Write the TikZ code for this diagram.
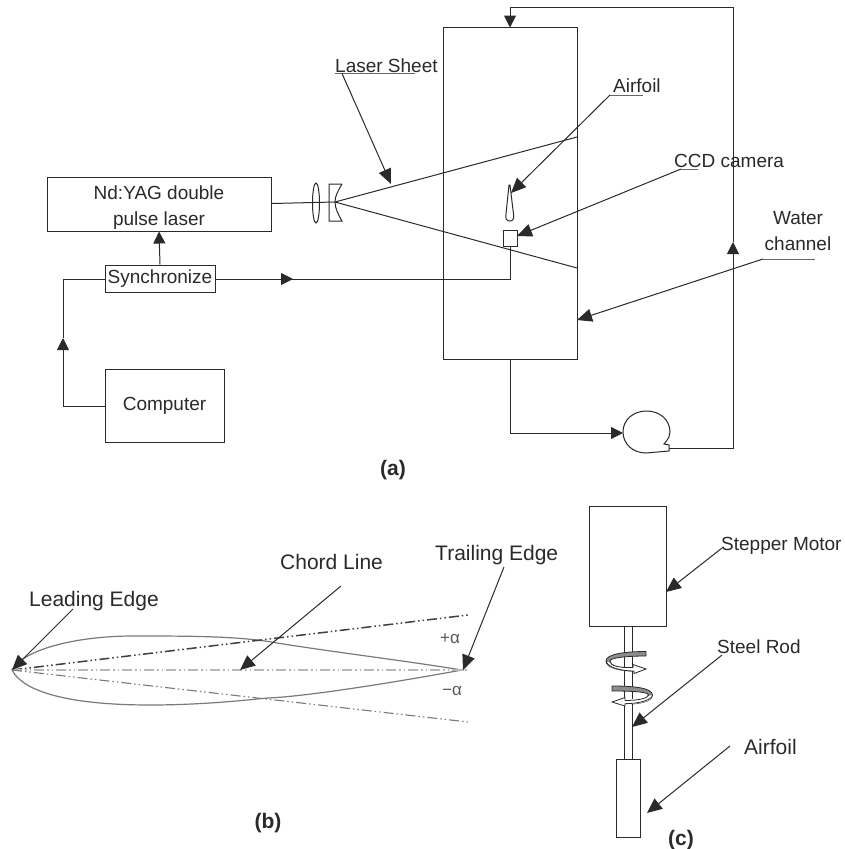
\documentclass[tikz,border=0pt]{standalone}
\usepackage{fontspec}
\setmainfont{Liberation Sans}
\usetikzlibrary{arrows.meta,shapes.geometric,calc}
\definecolor{ink}{HTML}{2A2A2A}
\tikzset{
  wire/.style={draw=ink,line width=1pt},
  boxnode/.style={wire,rectangle,inner sep=0pt,text=ink,font=\fontsize{19}{26}\selectfont,align=center},
  lab/.style={inner sep=0pt,anchor=base west,text=ink,font=\fontsize{19}{26}\selectfont,align=center},
  labbig/.style={lab,font=\fontsize{21}{26}\selectfont},
  captext/.style={inner sep=0pt,anchor=base,text=ink,font=\fontsize{21}{24}\selectfont\bfseries},
  arrowed/.style={wire,-{Triangle[length=12pt,width=12pt,color=ink]}},
  slant/.style={wire,-{Triangle[length=15pt,width=13pt,color=ink]}},
  foil/.style={draw=black!52,line width=1.2pt},
  ddot/.style={dash pattern=on 10pt off 3pt on 1.5pt off 3pt on 1.5pt off 3pt},
  ang/.style={inner sep=0pt,text=black!65,font=\fontsize{17}{18}\selectfont}
}
\begin{document}
\begin{tikzpicture}[x=1pt,y=-1pt]
\useasboundingbox (0,0) rectangle (844,849);
\fill[white] (0,0) rectangle (844,849);
% ---------- (a)
\node[boxnode,minimum width=224pt,minimum height=54pt] (laser) at (159,204) {\rule{0pt}{20pt}Nd:YAG double\\pulse laser};
\node[boxnode,minimum width=110pt,minimum height=27pt] (sync) at (160,278.5) {Synchronize};
\node[boxnode,minimum width=119pt,minimum height=73pt] (computer) at (164.5,405.5) {Computer};
\node[wire,rectangle,inner sep=0pt,minimum width=134pt,minimum height=332pt] (channel) at (510,193.5) {};
\node[wire,rectangle,inner sep=0pt,minimum width=14pt,minimum height=16pt] (camera) at (510,238) {};
\node[wire,ellipse,inner sep=0pt,minimum width=7pt,minimum height=40pt] (lens) at (316,203) {};
\coordinate (apex) at (335,202);
\coordinate (beamU) at (577,137);
\coordinate (beamL) at (577,268);
\draw[wire] (laser.east |- 0,203.5) -- (apex);
\draw[wire] (apex) -- (beamU);
\draw[wire] (apex) -- (beamL);
\draw[wire] (342,184) -- (329,184) -- (329,221) -- (342,221) .. controls (338,214) and (335,208) .. (apex) .. controls (335,196) and (338,191) .. (342,184);
\draw[wire,fill=white] (509,185) -- (506,214) .. controls (505,219) and (507,221) .. (510,221) .. controls (513,221) and (514,219) .. (513.5,214) -- (510,185) -- cycle;
% wires
\coordinate (syncmid) at (293,279);
\coordinate (corner) at (63,279);
\coordinate (compmid) at (63,338);
\draw[arrowed] (sync.north) -- (laser.south);
\draw[wire] (camera.south) |- (sync.east |- 0,279);
\draw[arrowed] (sync.east |- 0,279) -- (syncmid);
\draw[wire] (compmid) -- (corner) -- (sync.west |- 0,279);
\draw[arrowed] (computer.west |- 0,406) -| (compmid);
% pump loop
\draw[wire] (669,451) -- (669,445) -- (664,444) .. controls (669,438) and (670,436) .. (670,432) .. controls (670,420) and (660,411) .. (646.5,411) .. controls (633,411) and (623,420) .. (623,432) .. controls (623,444) and (633,453) .. (646,453) -- cycle;
\coordinate (pumpin) at (623,433);
\coordinate (pumpout) at (669,448);
\coordinate (loopmid) at (733,242);
\coordinate (looptop) at (733,7);
\coordinate (chtop) at (510,27.5);
\coordinate (chtopstart) at (510,7);
\draw[arrowed] (channel.south) |- (pumpin);
\draw[arrowed] (pumpout) -| (loopmid);
\draw[wire] (loopmid) -- (looptop) -- (chtopstart);
\draw[arrowed] (chtopstart) -- (chtop);
% labels (a)
\node[lab] (lsheet) at (335,72) {Laser Sheet};
\coordinate (lsA) at (335,73.5); \coordinate (lsB) at (415,73.5);
\draw[wire,draw=black!60] (lsA) -- (lsB);
\coordinate (lsS) at (342,73.5); \coordinate (lsT) at (391,184);
\draw[slant] (lsS) -- (lsT);
\node[lab] (afa) at (613,92) {Airfoil};
\coordinate (afA) at (610,95); \coordinate (afB) at (643,95); \coordinate (afT) at (511,193);
\draw[wire,draw=black!60] (afA) -- (afB);
\draw[slant] (afA) -- (afT);
\node[lab] (ccd) at (674,167) {CCD camera};
\coordinate (ccA) at (681,169); \coordinate (ccB) at (698,169); \coordinate (ccT) at (517,236);
\draw[wire,draw=black!60] (ccA) -- (ccB);
\draw[slant] (ccA) -- (ccT);
\node[lab,anchor=north] (water) at (798,211) {Water\\channel};
\coordinate (wcA) at (763,259); \coordinate (wcB) at (815,259); \coordinate (wcT) at (577,320);
\draw[wire,draw=black!60] (wcA) -- (wcB);
\draw[slant] (wcA) -- (wcT);
\node[captext] (capa) at (393,475) {(a)};
% ---------- (b)
\coordinate (le) at (12,670);
\coordinate (te) at (462,670);
\coordinate (endU) at (468,615);
\coordinate (endC) at (468,670);
\coordinate (endL) at (468,722);
\draw[foil] (le) .. controls (25,648) and (80,636) .. (133,636) .. controls (190,636) and (240,636) .. (277,643) .. controls (340,653) and (400,660) .. (te) .. controls (380,685) and (300,697) .. (267,698) .. controls (230,702) and (190,705) .. (150,705) .. controls (80,705) and (25,695) .. (le) -- cycle;
\draw[draw=black!75,line width=1.5pt,ddot] (le) -- (endU);
\draw[draw=black!28,line width=1.5pt,ddot] (le) -- (endC);
\draw[draw=black!52,line width=1.1pt,ddot] (le) -- (endL);
\node[ang] (plus) at (450,639) {+α};
\node[ang] (minus) at (452,691) {−α};
\node[labbig] (leading) at (29,606) {Leading Edge};
\node[labbig] (chord) at (280,569) {Chord Line};
\node[labbig] (trailing) at (435,560) {Trailing Edge};
\coordinate (leS) at (73,609); \coordinate (chS) at (341,586); \coordinate (chT) at (240,670); \coordinate (teS) at (504,567); \coordinate (teT) at (463,670);
\draw[slant] (leS) -- (le);
\draw[slant] (chS) -- (chT);
\draw[slant] (teS) -- (teT);
\node[captext] (capb) at (268,828) {(b)};
% ---------- (c)
\node[wire,rectangle,inner sep=0pt,minimum width=77pt,minimum height=120pt] (motor) at (627.5,566) {};
\node[wire,rectangle,inner sep=0pt,minimum width=24pt,minimum height=78pt] (foilbox) at (628,798) {};
\draw[wire] (624,626) -- (624,759);
\draw[wire] (632,626) -- (632,759);
% swirls
\draw[wire,line width=0.8pt,fill=black!45] (646,651.5) .. controls (625,651.5) and (606,654) .. (606,661) .. controls (606,668) and (620,671) .. (634,671) -- (634,668) .. controls (620,668) and (610,666) .. (610,661) .. controls (610,658) and (625,656) .. (646,656) -- cycle;
\fill[white] (609,662) .. controls (610,666) and (620,668) .. (634,668) -- (634,671) .. controls (620,671) and (607,668) .. (606.8,662) -- cycle;
\draw[wire,line width=0.8pt,fill=white] (634,671) -- (634,673.5) -- (646,669) -- (633,664.5) -- (633,667.5) .. controls (620,668) and (610,666) .. (610,661);
\draw[wire,line width=0.8pt] (606.2,661) .. controls (607,667) and (620,671) .. (634,671);
\draw[wire,line width=0.8pt,fill=black!45] (612,686) .. controls (635,686) and (652,688) .. (652.5,695) .. controls (652.5,700) and (645,703) .. (632,704) -- (632,701) .. controls (642,700) and (648.5,698) .. (648.5,695) .. controls (648,692) and (635,691) .. (612,691) -- cycle;
\fill[white] (648.7,696) .. controls (648,699) and (642,700) .. (632,701) -- (632,704) .. controls (645,703) and (652,700) .. (652.3,696) -- cycle;
\draw[wire,line width=0.8pt,fill=white] (625,700.5) -- (625,697.5) -- (612,702) -- (625,706) -- (625,703.7) .. controls (640,703.5) and (652,700) .. (652.5,695);
\draw[wire,line width=0.8pt] (648.5,695) .. controls (648,698) and (640,700.5) .. (625,700.5);
% labels (c)
\node[lab] (stepper) at (721,550) {Stepper Motor};
\node[lab] (steel) at (717,653) {Steel Rod};
\node[labbig] (afc) at (744,754) {Airfoil};
\coordinate (stS) at (722,548); \coordinate (stT) at (666,592);
\coordinate (srS) at (722,655); \coordinate (srT) at (632,727);
\coordinate (acS) at (730,746); \coordinate (acT) at (647,813);
\draw[slant] (stS) -- (stT);
\draw[slant] (srS) -- (srT);
\draw[slant] (acS) -- (acT);
\node[captext] (capc) at (681,845) {(c)};
\end{tikzpicture}
\end{document}
